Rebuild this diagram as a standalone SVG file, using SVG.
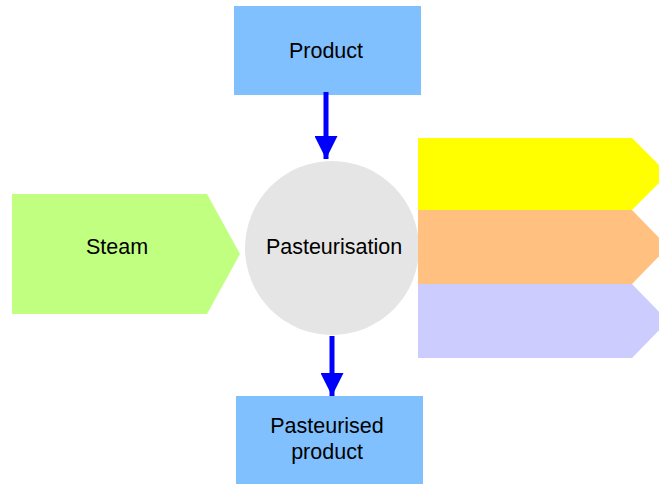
<svg xmlns="http://www.w3.org/2000/svg" width="659" height="484" viewBox="0 0 659 484">
  <style>
    text { font-family: "Liberation Sans", Arial, sans-serif; font-size: 21.5px; fill: #000; text-anchor: middle; }
    .box { fill: #80C0FF; }
    .flow { stroke: #0000FF; stroke-width: 5; fill: none; }
  </style>
  <defs>
    <marker id="head" viewBox="0 0 23 23" refX="23" refY="11.5" markerWidth="23" markerHeight="23" markerUnits="userSpaceOnUse" orient="auto">
      <path d="M0,0 L23,11.5 L0,23 Z" fill="#0000FF"/>
    </marker>
  </defs>

  <g id="product">
    <rect class="box" x="234" y="6" width="187" height="89"/>
    <text x="326" y="58">Product</text>
  </g>

  <g id="steam">
    <polygon points="12,194 207,194 240,254 207,314 12,314" fill="#C0FF80"/>
    <text x="117" y="254">Steam</text>
  </g>

  <g id="pasteurisation">
    <circle cx="332" cy="248" r="87" fill="#E5E5E5"/>
    <text x="334" y="254">Pasteurisation</text>
  </g>

  <g id="output-yellow">
    <polygon points="418,138 632,138 668,174 632,210 418,210" fill="#FFFF00"/>
  </g>
  <g id="output-orange">
    <polygon points="418,210 632,210 668,247 632,284 418,284" fill="#FFC080"/>
  </g>
  <g id="output-lilac">
    <polygon points="418,284 632,284 668,321 632,358 418,358" fill="#CCCCFF"/>
  </g>

  <g id="pasteurised-product">
    <rect class="box" x="236" y="396" width="187" height="88"/>
    <text x="327" y="433">Pasteurised</text>
    <text x="327" y="459">product</text>
  </g>

  <g id="connectors">
    <line class="flow" x1="326" y1="92" x2="326" y2="159" marker-end="url(#head)"/>
    <line class="flow" x1="332" y1="336" x2="332" y2="396" marker-end="url(#head)"/>
  </g>
</svg>
